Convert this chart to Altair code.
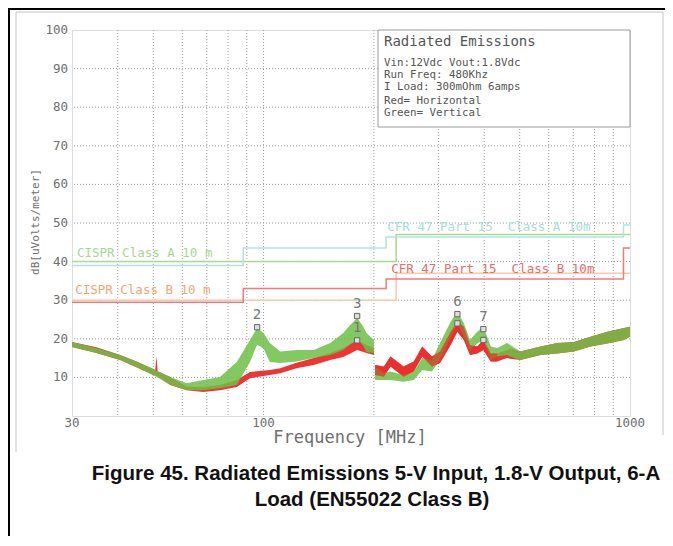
import altair as alt
import pandas as pd

# ---------------- data ----------------
# Vertical polarisation (green) noise envelope, sweep 1 (30-200 MHz)
g1_freq = [30, 35, 40.6, 45, 50, 55.6, 61.7, 68.4, 76, 84.5, 91.8, 96, 100, 104, 111, 123, 137, 152, 165, 172, 180, 186, 191, 200]
g1_lo   = [17.9, 16.3, 14.5, 12.6, 10.6, 8.0, 6.7, 6.7, 7.2, 8.0, 14.0, 18.5, 17.5, 14.0, 13.7, 14.1, 15.0, 15.8, 17.1, 18.5, 19.7, 18.5, 16.6, 16.3]
g1_hi   = [19.2, 17.6, 15.8, 14.1, 12.2, 10.1, 8.5, 9.3, 10.1, 14.0, 19.7, 22.8, 21.5, 18.9, 16.7, 17.1, 17.1, 18.9, 21.5, 23.5, 25.4, 23.5, 21.5, 19.7]
# Vertical polarisation (green), sweep 2 (200-1000 MHz)
g2_freq = [201.5, 213, 222, 241, 257, 271, 288, 303, 324, 338, 352, 366, 383, 398, 417, 434, 462, 471, 502, 570, 633, 703, 780, 867, 963, 1000]
g2_lo   = [9.3, 9.3, 9.3, 8.9, 9.3, 11.9, 11.5, 14.5, 20.5, 24.0, 20.5, 17.1, 18.8, 19.7, 14.5, 15.4, 15.8, 15.4, 14.5, 15.8, 16.2, 16.7, 18.0, 18.8, 19.7, 20.5]
g2_hi   = [12.8, 11.1, 11.5, 10.6, 11.5, 15.0, 14.5, 18.9, 24.4, 27.0, 24.0, 19.7, 21.8, 23.1, 18.0, 17.6, 18.9, 18.4, 16.7, 18.0, 18.9, 19.2, 20.5, 21.8, 22.8, 23.1]

# Horizontal polarisation (red), sweep 1
r1_freq = [30, 35, 40.6, 45, 50, 50.6, 51, 51.4, 55.6, 61.7, 68.4, 76, 84.5, 91.8, 104, 111, 123, 137, 152, 165, 180, 191, 200]
r1_lo   = [17.9, 16.3, 14.5, 12.6, 10.6, 10.5, 10.5, 10.3, 8.0, 6.7, 6.2, 6.7, 7.5, 9.8, 10.6, 11.1, 12.4, 13.2, 14.5, 15.3, 17.1, 16.3, 15.8]
r1_hi   = [19.2, 17.8, 15.8, 14.1, 12.2, 11.8, 15.4, 11.6, 10.1, 7.6, 7.5, 8.0, 9.3, 11.4, 11.9, 12.4, 13.8, 15.0, 16.3, 17.6, 19.7, 18.4, 17.6]
# Horizontal polarisation (red), sweep 2
r2_freq = [201.5, 213, 222, 241, 257, 271, 288, 303, 324, 338, 352, 366, 383, 398, 417, 434, 462, 471, 502, 570, 633, 703, 780, 867, 963, 1000]
r2_lo   = [10.6, 10.2, 12.8, 10.2, 11.5, 15.4, 12.8, 13.7, 18.4, 21.8, 19.7, 15.8, 16.2, 17.1, 14.1, 14.1, 15.0, 14.8, 14.5, 15.8, 16.2, 16.7, 18.0, 18.8, 19.7, 20.5]
r2_hi   = [13.2, 12.8, 15.4, 12.8, 14.1, 18.0, 15.4, 16.7, 21.8, 24.4, 23.1, 18.4, 18.0, 19.7, 16.2, 16.2, 17.1, 17.5, 16.7, 18.0, 18.9, 19.2, 20.5, 21.8, 22.8, 23.1]

# Limit lines (step functions)
cfr_a_freq = [30, 88, 216, 960, 1000]
cfr_a_db   = [39.0, 43.5, 46.4, 49.5, 49.5]
cispr_a_freq = [30, 230, 1000]
cispr_a_db   = [40.0, 47.0, 47.0]
cfr_b_freq = [30, 88, 216, 960, 1000]
cfr_b_db   = [29.5, 33.0, 35.5, 43.5, 43.5]
cispr_b_freq = [30, 230, 1000]
cispr_b_db   = [30.0, 37.0, 37.0]

# Limit labels (double space kept with a no-break space)
limit_labels = ["CISPR Class A 10 m", "CISPR Class B 10 m",
                "CFR 47 Part 15\u00a0 Class A 10m", "CFR 47 Part 15\u00a0 Class B 10m"]
limit_label_freq = [30.95, 30.6, 217.6, 223.0]
limit_label_db = [42.2, 32.6, 49.0, 38.1]

# Markers
marker_ids = ["1", "2", "3", "4", "5", "6", "7"]
marker_freq = [180, 96, 180, 398, 338, 338, 398]
marker_db = [19.6, 23.0, 25.9, 19.7, 24.0, 26.4, 22.5]
marker_label_shown = [True, True, True, False, False, True, True]

# Axis ticks
y_tick_values = [10, 20, 30, 40, 50, 60, 70, 80, 90, 100]
x_tick_values = [30, 100, 1000]
x_grid_values = [40, 50, 60, 70, 80, 90, 100, 200, 300, 400, 500, 600, 700, 800, 900]
y_grid_values = [10, 20, 30, 40, 50, 60, 70, 80, 90]

legend_title = "Radiated Emissions"
legend_lines = ["Vin:12Vdc Vout:1.8Vdc", "Run Freq: 480Khz", "I Load: 300mOhm 6amps", "Red= Horizontal", "Green= Vertical"]
caption_lines = ["Figure 45. Radiated Emissions 5-V Input, 1.8-V Output, 6-A", "Load (EN55022 Class B)"]
x_title = "Frequency [MHz]"
y_title = "dB[uVolts/meter]"

# ---------------- layout / style ----------------
W, H = 558, 386
MONO = "DejaVu Sans Mono"
GRAY_TXT = "#6e6e6e"
GREEN = "#6dbf45"
RED = "#ec2a2a"

xs = alt.Scale(type="log", domain=[30, 1000], nice=False)
ys = alt.Scale(domain=[0, 100], nice=False, zero=False)

one = pd.DataFrame({"a": [0]})


def band(freq, lo, hi, color, opacity):
    df = pd.DataFrame({"f": freq, "lo": lo, "hi": hi})
    return alt.Chart(df).mark_area(color=color, opacity=opacity, interpolate="linear").encode(
        x=alt.X("f:Q", scale=xs, axis=None),
        y=alt.Y("lo:Q", scale=ys, axis=None),
        y2="hi:Q",
    )


def step(freq, db, color):
    df = pd.DataFrame({"f": freq, "db": db})
    return alt.Chart(df).mark_line(color=color, strokeWidth=1.5, interpolate="step-after").encode(
        x=alt.X("f:Q", scale=xs, axis=None),
        y=alt.Y("db:Q", scale=ys, axis=None),
    )


# tick labels drawn as text through the scales
ytl = alt.Chart(pd.DataFrame({"db": y_tick_values})).mark_text(
    font=MONO, fontSize=12.5, color=GRAY_TXT, align="right", baseline="middle").encode(
    x=alt.value(-4), y=alt.Y("db:Q", scale=ys, axis=None), text=alt.Text("db:Q", format="d"))
xtl = alt.Chart(pd.DataFrame({"f": x_tick_values})).mark_text(
    font=MONO, fontSize=12.5, color=GRAY_TXT, align="center", baseline="top").encode(
    x=alt.X("f:Q", scale=xs, axis=None), y=alt.value(H + 1), text=alt.Text("f:Q", format="d"))

gx = alt.Chart(pd.DataFrame({"f": x_grid_values})).mark_rule(
    color="#9c9c9c", strokeWidth=1, strokeDash=[1, 2]).encode(
    x=alt.X("f:Q", scale=xs, axis=None))
gy = alt.Chart(pd.DataFrame({"db": y_grid_values})).mark_rule(
    color="#9c9c9c", strokeWidth=1, strokeDash=[1, 2]).encode(
    y=alt.Y("db:Q", scale=ys, axis=None))

# legend box
box_left = 306
box_bottom = 97
legend_box = alt.Chart(one).mark_rect(fill="white", stroke="#9a9a9a", strokeWidth=1).encode(
    x=alt.value(box_left), x2=alt.value(W), y=alt.value(0), y2=alt.value(box_bottom))

legend_layers = [
    alt.Chart(one).mark_text(text=legend_title, font=MONO, fontSize=14, color="#555",
                             align="left", baseline="middle").encode(
        x=alt.value(box_left + 6), y=alt.value(12))
]
legend_y = [32.5, 44.5, 56.5, 70.5, 82.5]
for t, yy in zip(legend_lines, legend_y):
    legend_layers.append(
        alt.Chart(one).mark_text(text=t, font=MONO, fontSize=10.8, color="#555",
                                 align="left", baseline="middle").encode(
            x=alt.value(box_left + 6), y=alt.value(yy)))

limits = [
    step(cispr_b_freq, cispr_b_db, "#f8c9aa"),
    step(cispr_a_freq, cispr_a_db, "#a9d98f"),
    step(cfr_a_freq, cfr_a_db, "#b4e2e2"),
    step(cfr_b_freq, cfr_b_db, "#f27a7a"),
]

lab_colors = ["#a3d98f", "#f3a576", "#a9dcdc", "#f06a6a"]
lab_layers = []
for t, f, d, c in zip(limit_labels, limit_label_freq, limit_label_db, lab_colors):
    lab_layers.append(
        alt.Chart(pd.DataFrame({"f": [f], "db": [d]})).mark_text(
            text=t, font=MONO, fontSize=12.5, color=c, align="left", baseline="middle").encode(
            x=alt.X("f:Q", scale=xs, axis=None), y=alt.Y("db:Q", scale=ys, axis=None)))

bands = [
    band(r1_freq, r1_lo, r1_hi, RED, 0.95),
    band(r2_freq, r2_lo, r2_hi, RED, 0.95),
    band(g1_freq, g1_lo, g1_hi, GREEN, 0.85),
    band(g2_freq, g2_lo, g2_hi, GREEN, 0.85),
]
red_top = band(r2_freq[:16], r2_lo[:16], r2_hi[:16], RED, 0.6)

mk_df = pd.DataFrame({"id": marker_ids, "f": marker_freq, "db": marker_db,
                      "lab": [i if s else "" for i, s in zip(marker_ids, marker_label_shown)]})
markers = alt.Chart(mk_df).mark_point(shape="square", size=28, filled=True, fill="#dddddd",
                                      stroke="#666", strokeWidth=1, opacity=1).encode(
    x=alt.X("f:Q", scale=xs, axis=None), y=alt.Y("db:Q", scale=ys, axis=None))
marker_text = alt.Chart(mk_df).mark_text(font=MONO, fontSize=14, color="#777", dy=-12,
                                         baseline="middle").encode(
    x=alt.X("f:Q", scale=xs, axis=None), y=alt.Y("db:Q", scale=ys, axis=None), text="lab:N")

# titles and caption
xt = alt.Chart(one).mark_text(text=x_title, font=MONO, fontSize=17, color=GRAY_TXT,
                              align="center", baseline="middle").encode(
    x=alt.value(278), y=alt.value(408))
yt = alt.Chart(one).mark_text(text=y_title, font=MONO, fontSize=11, color=GRAY_TXT, angle=270,
                              align="center", baseline="middle").encode(
    x=alt.value(-36), y=alt.value(192))
cap = [
    alt.Chart(one).mark_text(text=caption_lines[0], font="Liberation Sans", fontWeight="bold",
                             fontSize=20.5, color="#111", align="center", baseline="middle").encode(
        x=alt.value(304), y=alt.value(444)),
    alt.Chart(one).mark_text(text=caption_lines[1], font="Liberation Sans", fontWeight="bold",
                             fontSize=20.5, color="#111", align="center", baseline="middle").encode(
        x=alt.value(300), y=alt.value(470)),
]

# frames
frames = [
    alt.Chart(one).mark_rule(color="#000", strokeWidth=2).encode(
        x=alt.value(-63), y=alt.value(-22), y2=alt.value(508)),
    alt.Chart(one).mark_rule(color="#000", strokeWidth=2).encode(
        x=alt.value(-64), x2=alt.value(593), y=alt.value(-21)),
    alt.Chart(one).mark_rule(color="#c4c4c4", strokeWidth=1).encode(
        x=alt.value(-56), y=alt.value(-18), y2=alt.value(422)),
    alt.Chart(one).mark_rule(color="#c4c4c4", strokeWidth=1).encode(
        x=alt.value(-56), x2=alt.value(591), y=alt.value(-18)),
    alt.Chart(one).mark_rule(color="#c4c4c4", strokeWidth=1).encode(
        x=alt.value(591), y=alt.value(-18), y2=alt.value(405)),
]

chart = alt.layer(
    *frames, gx, gy, legend_box, *legend_layers, *limits, *lab_layers,
    *bands, red_top, markers, marker_text, ytl, xtl, xt, yt, *cap
).properties(
    width=W, height=H,
    autosize=alt.AutoSizeParams(type="none"),
    padding={"left": 64, "top": 22, "right": 35, "bottom": 120},
).configure_view(stroke="#9a9a9a", strokeWidth=1).configure(background="white")

chart.save("out.html", embed_options={"renderer": "svg", "actions": False})
